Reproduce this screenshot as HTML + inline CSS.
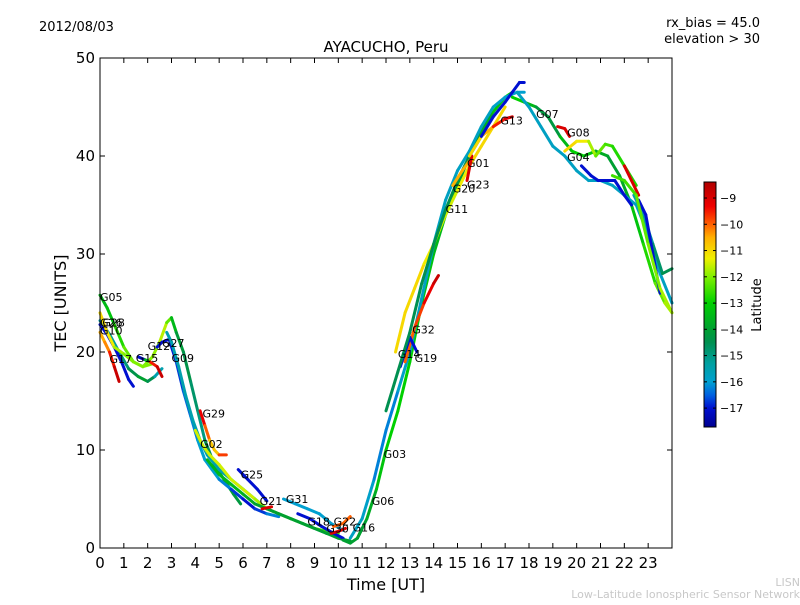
<!DOCTYPE html>
<html><head><meta charset="utf-8"><style>
body{margin:0;background:#fff;}
svg text{font-family:"DejaVu Sans","Liberation Sans",sans-serif;}
</style></head><body>
<svg id="chart" width="800" height="600" viewBox="0 0 800 600" xmlns="http://www.w3.org/2000/svg">
<rect width="800" height="600" fill="#fff"/>
<text x="39" y="31" font-size="13">2012/08/03</text>
<text x="760" y="27" font-size="13" text-anchor="end">rx_bias = 45.0</text>
<text x="760" y="43" font-size="13" text-anchor="end">elevation &gt; 30</text>
<text x="386" y="52" font-size="15" text-anchor="middle">AYACUCHO, Peru</text>
<text x="66" y="303" font-size="16" text-anchor="middle" transform="rotate(-90 66 303)">TEC [UNITS]</text>
<text x="386" y="590" font-size="16" text-anchor="middle">Time [UT]</text>
<g id="tracks"></g>
<g id="labels"></g>
<rect x="100" y="58" width="572" height="490" fill="none" stroke="#000" stroke-width="1"/>
<g id="axes"></g>
<defs><linearGradient id="cmapgrad" x1="0" y1="1" x2="0" y2="0"></linearGradient></defs>
<rect x="704" y="182" width="12" height="245" fill="url(#cmapgrad)" stroke="#000" stroke-width="1"/>
<g id="cbticks"></g>
<text x="761" y="305" font-size="13" text-anchor="middle" transform="rotate(-90 761 305)">Latitude</text>
<text x="800" y="586" font-size="11" fill="#c8c8c8" text-anchor="end">LISN</text>
<text x="800" y="598" font-size="11" fill="#c8c8c8" text-anchor="end">Low-Latitude Ionospheric Sensor Network</text>
</svg>
<script>
const xTicks=[0,1,2,3,4,5,6,7,8,9,10,11,12,13,14,15,16,17,18,19,20,21,22,23];
const yTicks=[0,10,20,30,40,50];
const cbTicks=[-9,-10,-11,-12,-13,-14,-15,-16,-17];
const latMin=-17.72, latMax=-8.39;
const trackT=[
[0,0.3,0.6,1,1.4,1.8,2.2,2.5,2.8,3.0,3.2,3.5,3.8,4.1,4.4,4.8,5.2,5.6,5.9],
[0,0.4,0.8,1.2,1.6,2.0,2.3,2.6],
[0,0.3,0.6,0.9,1.2,1.4],
[0,0.2,0.4,0.6,0.8],
[0,0.3,0.6,1.0,1.4,1.8,2.2],
[1.6,1.9,2.1,2.4,2.6],
[2.4,2.6,2.9,3.2,3.5,3.8,4.1,4.4,4.7,5.0,5.5,6.0,6.5,7.0,7.5],
[2.8,3.0,3.3,3.6,3.9,4.2,4.5,5.0,5.5,6.0,6.5,7.0,7.5,8,8.5,9,9.5,10],
[4.2,4.4,4.6,4.8,5.0,5.3],
[4.0,4.3,4.6,5.0,5.5,6.0,6.5,7,7.5,8,8.5,9,9.5,10],
[4.5,5,5.5,6,6.5,7,7.5,8,8.5,9,9.5,10,10.5],
[5.8,6.2,6.6,7],
[6.8,7.2],
[7.7,8.2,8.7,9.2,9.7,10.2],
[8.3,8.8,9.3,9.8,10.2],
[9.7,10.0,10.3],
[9.8,10.2,10.5],
[10.2,10.5,10.8,11.0],
[10.8,11.2,11.6,12,12.5,13,13.5,14,14.5,15,15.5,16,16.5,17,17.3],
[10.5,11,11.5,12,12.5,13,13.5,14,14.5,15,15.5,16,16.5,17,17.5,17.8],
[12.4,12.8,13.2,13.6,14,14.5,15,15.5,16,16.5,17],
[12.8,13.2,13.6,14,14.2],
[12.6,13,13.3],
[12,12.5,13,13.5,14,14.5,15,15.5,16],
[14.8,15.2,15.5],
[15.4,15.6],
[15.5,16,16.5,17,17.3],
[16,16.5,17,17.3,17.6,17.8],
[17.3,17.8,18.3,18.8,19.3,19.8,20.3,20.8,21.3,21.8,22.3,22.8,23.3,23.7,24],
[17.5,18,18.5,19,19.5,20,20.5,21,21.5,22,22.5,23,23.5,24],
[19.2,19.5,19.7],
[19.5,20,20.5,20.8,21.2,21.5,22,22.5],
[20.2,20.6,20.9,21.2,21.6,22.0,22.3],
[22,22.3,22.6],
[22.4,22.8,23.2,23.6,24],
[22.6,22.9,23.2,23.5],
[21.5,22,22.5,23,23.5,24]
];
const trackV=[
[25.8,24.5,22.8,20.5,19,18.5,19.5,21,23,23.5,22,20,17,14,11,8.5,7,5.5,4.5],
[23.2,21.8,20,18.3,17.5,17,17.5,18.3],
[22.8,21.8,20.5,19,17.2,16.5],
[22,21,20,18.5,17],
[24,22,20.5,19.8,19,18.5,18.8],
[19.5,19.2,19,18.5,17.5],
[20.5,21,21.3,19,16,13.5,11,9,8,7,6,5,4,3.5,3.2],
[22,21,18.5,15.5,13,11,9.5,8,7,6,5,4,3.5,3,2.5,2,1.5,1.2],
[14,12.5,11,10,9.5,9.5],
[12,10.5,9.5,8.5,7,6,5,4,3.5,3,2.5,2,1.7,1.5],
[9,7.5,6.5,5.5,4.5,4,3.5,3,2.5,2,1.5,1,0.7],
[8,7,6,4.8],
[4,4.2],
[5,4.5,4,3.5,2.5,1.8],
[3.5,3,2.2,1.5,1],
[1.5,1.7,2],
[2.2,2.5,3.2],
[0.8,0.5,1,2],
[1,3,6,10,14,19,25,30,34,37,40,42.5,44.5,46,46.5],
[1,3,7,12,16,20,25.5,31,35.5,38.5,40.5,43,45,46,46.5,46.5],
[20,24,26.5,29,31,34,36.5,39,41,43,45],
[19,22.5,25,27,27.8],
[18.5,21.5,20],
[14,18,22,27,31,34.5,37.5,40,42],
[37,38.5,39.5],
[37.5,40],
[40,42,43,43.8,44],
[42,44,45.5,46.5,47.5,47.5],
[46,45.5,45,44,42,40.5,40,40.5,40,38,35,31,27,25,24],
[46.5,45,43,41,40,38.5,37.5,37.5,37,36,35,32,28,25],
[43,42.8,42],
[40.5,41.5,41.5,40,41.2,41,39,37],
[39,38,37.5,37.5,37.5,36,35],
[39,37.5,36],
[36,34,31,28,28.5],
[35.5,34,30,26],
[38,37.5,36,31,26.5,24]
];
const trackLat=[
[-13.5,-13.5,-13,-12.5,-12,-12,-12,-11.8,-11.5,-13,-14,-14.3,-14.5,-15,-15,-14,-13.5,-14,-14.5],
[-15.5,-15.5,-15,-14.8,-14,-14,-15,-16],
[-17,-17,-17,-17,-17,-17],
[-10.5,-10.5,-10,-9,-8.5],
[-11,-11,-11.5,-12,-12,-12,-12],
[-17,-17,-10,-9,-8.5],
[-17,-17,-17,-17,-16.5,-16.5,-16,-16,-16,-16,-16.5,-17,-17,-16.5,-16],
[-15.5,-15.5,-15.5,-15.5,-15.5,-15.5,-15.5,-15.5,-15.5,-15.5,-15.5,-15.5,-15.5,-15.5,-15.5,-15.5,-15.5,-15.5],
[-9,-9.5,-10.5,-11,-10.5,-9],
[-11.5,-11.5,-11.5,-11.5,-11.5,-11.5,-11.5,-12,-12,-12,-12.5,-12.5,-12.5,-12.5],
[-13.5,-13.5,-13.5,-13.5,-14,-14,-14,-14,-14,-14,-14,-14,-14],
[-17,-17,-17,-17],
[-9,-9],
[-16,-16,-16,-16,-16,-16],
[-17,-17,-17,-17,-17],
[-9,-9,-9],
[-10,-10,-10],
[-14,-14,-14,-14],
[-14,-14,-13.5,-13,-13,-13,-13,-13.5,-13.5,-14,-14,-14,-13.5,-13,-13],
[-15.8,-15.8,-16,-16.5,-16,-15.8,-15.8,-15.8,-15.8,-15.8,-15.8,-15.8,-15.8,-16,-16,-16],
[-11,-11,-11,-11,-11.5,-11.5,-11.5,-11,-11,-11,-11],
[-10,-10,-9.5,-9,-8.5],
[-17,-17,-17],
[-14.5,-14.5,-14.5,-14.5,-14.5,-14.5,-14.5,-14.5,-14.5],
[-10.5,-10.5,-10.5],
[-9,-9],
[-11,-11,-10,-9,-9],
[-17,-17,-17,-17,-17,-17],
[-13,-13,-14,-14.5,-14,-13,-13,-13.5,-14,-14,-13.5,-13,-12.5,-12,-11.5],
[-15.8,-15.8,-15.8,-15.8,-15.8,-15.8,-15.8,-15.8,-15.8,-15.8,-15.8,-15.8,-15.8,-15.8],
[-9,-9,-9],
[-11,-11,-11.5,-12,-12.5,-12.5,-13,-12.5],
[-17,-17,-17,-17,-17,-17,-17],
[-9,-9,-9],
[-15.5,-15.5,-15,-14.5,-14.5],
[-17,-17,-17,-17],
[-12.5,-12.5,-12.5,-12,-12,-11.5]
];
const prnNames=["G05","G26","G28","G10","G17","G15","G12","G27","G09","G29","G02","G25","G21","G31","G18","G30","G22","G16","G06","G03","G14","G19","G32","G11","G20","G23","G01","G13","G07","G08","G04"];
const prnT=[0.0,0.0,0.1,0.0,0.4,1.5,2.0,2.6,3.0,4.3,4.2,5.9,6.7,7.8,8.7,9.5,9.8,10.6,11.4,11.9,12.5,13.2,13.1,14.5,14.8,15.4,15.4,16.8,18.3,19.6,19.6];
const prnV=[25.6,23.0,23.0,22.2,19.3,19.4,20.6,20.9,19.4,13.7,10.6,7.5,4.8,5.0,2.7,2.0,2.7,2.1,4.8,9.6,19.8,19.4,22.3,34.6,36.7,37.1,39.3,43.6,44.3,42.4,39.9];

// colormap (styling, not data)
const cmapPos=[0,0.077,0.13,0.184,0.26,0.345,0.4,0.506,0.613,0.688,0.774,0.827,0.9,1];
const cmapCol=[[0,0,144],[0,16,208],[0,96,224],[0,160,208],[0,160,160],[0,144,80],[0,160,48],[0,208,0],[128,240,0],[240,240,0],[255,176,0],[255,96,0],[240,0,0],[176,0,0]];
const grad=document.getElementById('cmapgrad');
cmapPos.forEach((p,i)=>{const s=document.createElementNS("http://www.w3.org/2000/svg",'stop');s.setAttribute('offset',p);s.setAttribute('stop-color',`rgb(${cmapCol[i].join(',')})`);grad.appendChild(s);});

const X0=100,X1=672,Y0=548,Y1=58;
const xs=t=>X0+(X1-X0)*t/24;
const ys=v=>Y0-(Y0-Y1)*v/50;
const cy=l=>182+(427-182)*(latMax-l)/(latMax-latMin);
function cmap(l){
 const v=Math.max(0,Math.min(1,(l-latMin)/(latMax-latMin)));
 let i=0;while(i<cmapPos.length-2&&v>cmapPos[i+1])i++;
 const f=(v-cmapPos[i])/(cmapPos[i+1]-cmapPos[i]);
 const c=cmapCol[i].map((a,k)=>Math.round(a+(cmapCol[i+1][k]-a)*f));
 return `rgb(${c.join(',')})`;
}
const NS="http://www.w3.org/2000/svg";
function mk(tag,attrs,parent,text){const e=document.createElementNS(NS,tag);for(const k in attrs)e.setAttribute(k,attrs[k]);if(text!==undefined)e.textContent=text;parent.appendChild(e);return e;}
const tracks=document.getElementById('tracks');
trackT.forEach((ts,i)=>{
 const g=mk('g',{},tracks);
 
 
 for(let j=0;j<ts.length-1;j++){
  const seg=mk('line',{x1:xs(ts[j]),y1:ys(trackV[i][j]),x2:xs(ts[j+1]),y2:ys(trackV[i][j+1]),stroke:cmap((trackLat[i][j]+trackLat[i][j+1])/2),'stroke-width':3,'stroke-linecap':'round'},g);
  
  
 }
});
const labels=document.getElementById('labels');
prnNames.forEach((n,i)=>{
 const t=mk('text',{x:xs(prnT[i]),y:ys(prnV[i])+4,'font-size':11},labels,n);
 
 
});
const axes=document.getElementById('axes');
xTicks.forEach(v=>{
 const x=xs(v);
 mk('line',{x1:x,y1:Y0,x2:x,y2:Y0-5,stroke:'#000'},axes);
 mk('line',{x1:x,y1:Y1,x2:x,y2:Y1+5,stroke:'#000'},axes);
 const t=mk('text',{x:x,y:568,'font-size':15,'text-anchor':'middle'},axes,String(v));
 
 
});
yTicks.forEach(v=>{
 const y=ys(v);
 mk('line',{x1:X0,y1:y,x2:X0+5,y2:y,stroke:'#000'},axes);
 mk('line',{x1:X1,y1:y,x2:X1-5,y2:y,stroke:'#000'},axes);
 const t=mk('text',{x:95,y:y+5,'font-size':15,'text-anchor':'end'},axes,String(v));
 
 
});
const cb=document.getElementById('cbticks');
cbTicks.forEach(v=>{
 const y=cy(v);
 mk('line',{x1:704,y1:y,x2:707,y2:y,stroke:'#000'},cb);
 mk('line',{x1:716,y1:y,x2:713,y2:y,stroke:'#000'},cb);
 const t=mk('text',{x:720,y:y+4,'font-size':11},cb,'\u2212'+Math.abs(v));
 
 
});
</script>
</body></html>
